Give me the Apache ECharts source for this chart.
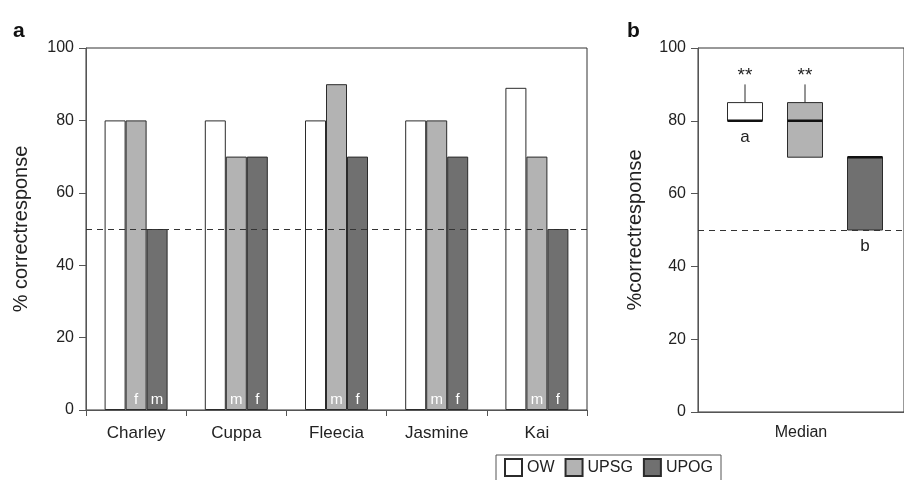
<!DOCTYPE html>
<html>
<head>
<meta charset="utf-8">
<script src="https://cdn.jsdelivr.net/npm/echarts@6/dist/echarts.min.js"></script>
<style>
  html, body { margin: 0; padding: 0; background: #fff; }
  #chart { width: 904px; height: 480px; }
</style>
</head>
<body>
<div id="chart"></div>
<script>
// panel a data
const dogs = ["Charley", "Cuppa", "Fleecia", "Jasmine", "Kai"];
const owValues = [80, 80, 80, 80, 89];
const upsgValues = [80, 70, 90, 80, 70];
const upogValues = [50, 70, 70, 70, 50];
const upsgSex = ["f", "m", "m", "m", "m"];
const upogSex = ["m", "f", "f", "f", "f"];
const chanceLevel = 50;

// panel b data: [min, q1, median, q3, max]
const boxGroups = ["OW", "UPSG", "UPOG"];
const boxStats = [
  [80, 80, 80, 85, 90],
  [70, 70, 80, 85, 90],
  [50, 50, 70, 70, 70]
];
const sigMarks = ["**", "**", ""];
const groupLetters = ["a", "", "b"];
const medianLabel = ["Median"];

const fillColors = { OW: "#ffffff", UPSG: "#b3b3b3", UPOG: "#707070" };
const edge = "#2b2b2b";
const font = "Liberation Sans, Arial, sans-serif";

const chart = echarts.init(document.getElementById("chart"));

const yAxisBase = {
  type: "value",
  min: 0,
  max: 100,
  interval: 20,
  axisLine: { show: true, lineStyle: { color: "#555" } },
  axisTick: { show: true, length: 7, lineStyle: { color: "#555" } },
  splitLine: { show: false },
  axisLabel: { color: "#222", fontSize: 16, margin: 12, fontFamily: font },
  nameLocation: "middle",
  nameTextStyle: { color: "#222", fontSize: 20, fontFamily: font }
};

const dashed = {
  silent: true,
  symbol: "none",
  label: { show: false },
  lineStyle: { type: [6, 5], color: "#333", width: 1 },
  data: [{ yAxis: chanceLevel }]
};

const barSeries = (name, values, sex) => ({
  name: name,
  type: "bar",
  xAxisIndex: 0,
  yAxisIndex: 0,
  data: values,
  barWidth: 21,
  barGap: "0%",
  itemStyle: { color: fillColors[name], borderColor: edge, borderWidth: 1 },
  label: sex
    ? {
        show: true,
        position: "insideBottom",
        distance: 3,
        color: "#fff",
        fontSize: 15,
        fontFamily: font,
        formatter: (p) => sex[p.dataIndex]
      }
    : { show: false }
});

chart.setOption({
  animation: false,
  title: [
    { text: "a", left: 8, top: 16, textStyle: { fontSize: 21, fontWeight: "bold", color: "#111", fontFamily: font } },
    { text: "b", left: 622, top: 16, textStyle: { fontSize: 21, fontWeight: "bold", color: "#111", fontFamily: font } }
  ],
  legend: {
    data: ["OW", "UPSG", "UPOG"],
    left: 496,
    top: 455,
    icon: "rect",
    itemWidth: 17,
    itemHeight: 17,
    itemGap: 10,
    padding: [3, 8, 6, 8],
    borderColor: "#555",
    borderWidth: 1,
    textStyle: { fontSize: 16, color: "#222", fontFamily: font }
  },
  grid: [
    { left: 86, right: 317, top: 48, bottom: 70, show: true, borderColor: "#333", borderWidth: 1 },
    { left: 698, right: -8, top: 48, bottom: 68, show: true, borderColor: "#333", borderWidth: 1 },
    { left: 715, right: 9, top: 48, bottom: 68 }
  ],
  xAxis: [
    {
      type: "category",
      gridIndex: 0,
      data: dogs,
      axisLine: { lineStyle: { color: "#555" } },
      axisTick: { show: true, length: 6, lineStyle: { color: "#555" } },
      axisLabel: { color: "#222", fontSize: 17, margin: 15, fontFamily: font }
    },
    {
      type: "category",
      gridIndex: 1,
      data: medianLabel,
      axisLine: { lineStyle: { color: "#555" } },
      axisTick: { show: false },
      axisLabel: { color: "#222", fontSize: 16, margin: 13, fontFamily: font }
    },
    {
      type: "category",
      gridIndex: 2,
      data: boxGroups,
      show: false
    }
  ],
  yAxis: [
    Object.assign({}, yAxisBase, { gridIndex: 0, name: "% correctresponse", nameGap: 55 }),
    Object.assign({}, yAxisBase, { gridIndex: 1, name: "%correctresponse", nameGap: 53 }),
    { type: "value", gridIndex: 2, min: 0, max: 100, show: false }
  ],
  series: [
    Object.assign(barSeries("OW", owValues, null), { markLine: dashed }),
    barSeries("UPSG", upsgValues, upsgSex),
    barSeries("UPOG", upogValues, upogSex),
    {
      name: "chance-b",
      type: "line",
      xAxisIndex: 1,
      yAxisIndex: 1,
      data: [],
      markLine: dashed
    },
    {
      name: "boxes",
      type: "custom",
      xAxisIndex: 2,
      yAxisIndex: 2,
      data: boxStats.map((s, i) => [i].concat(s)),
      renderItem: function (params, api) {
        const i = api.value(0);
        const lo = api.value(1), q1 = api.value(2), med = api.value(3), q3 = api.value(4), hi = api.value(5);
        const half = 17.5;
        const pLo = api.coord([i, lo]);
        const pQ1 = api.coord([i, q1]);
        const pMed = api.coord([i, med]);
        const pQ3 = api.coord([i, q3]);
        const pHi = api.coord([i, hi]);
        const x = pQ1[0];
        const children = [];
        if (hi > q3) {
          children.push({ type: "line", shape: { x1: x, y1: pQ3[1], x2: x, y2: pHi[1] }, style: { stroke: edge, lineWidth: 1 } });
        }
        if (lo < q1) {
          children.push({ type: "line", shape: { x1: x, y1: pQ1[1], x2: x, y2: pLo[1] }, style: { stroke: edge, lineWidth: 1 } });
        }
        children.push({
          type: "rect",
          shape: { x: x - half, y: pQ3[1], width: half * 2, height: pQ1[1] - pQ3[1] },
          style: { fill: fillColors[boxGroups[i]], stroke: edge, lineWidth: 1 }
        });
        children.push({
          type: "line",
          shape: { x1: x - half, y1: pMed[1], x2: x + half, y2: pMed[1] },
          style: { stroke: "#111", lineWidth: 2.5 }
        });
        if (sigMarks[i]) {
          children.push({
            type: "text",
            style: { text: sigMarks[i], x: x, y: pHi[1] + 1, align: "center", verticalAlign: "bottom", fontSize: 19, fill: "#222", fontFamily: font }
          });
        }
        if (groupLetters[i]) {
          children.push({
            type: "text",
            style: { text: groupLetters[i], x: x, y: pLo[1] + 8, align: "center", verticalAlign: "top", fontSize: 17, fill: "#222", fontFamily: font }
          });
        }
        return { type: "group", children: children };
      }
    }
  ]
});
</script>
</body>
</html>
